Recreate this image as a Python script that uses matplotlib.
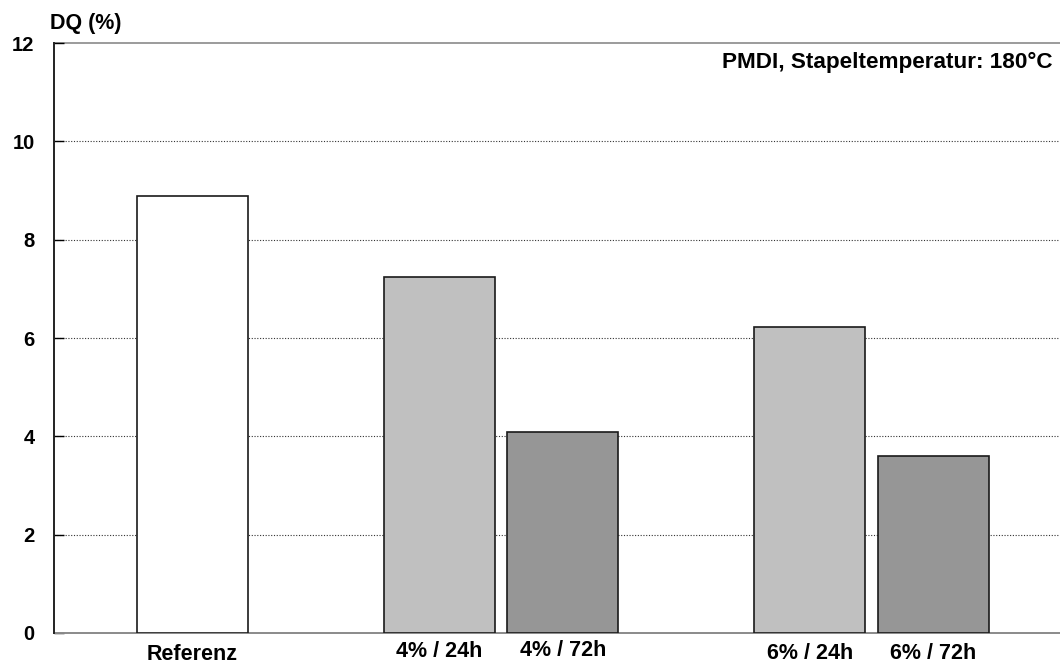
import matplotlib
matplotlib.use("Agg")
import matplotlib.pyplot as plt
from matplotlib.transforms import blended_transform_factory

# Data
categories = ["Referenz", "4% / 24h", "4% / 72h", "6% / 24h", "6% / 72h"]
dq_values = [8.88, 7.24, 4.09, 6.22, 3.60]
slot_positions = [1, 3, 4, 6, 7]
bar_colors = ["#ffffff", "#c0c0c0", "#969696", "#c0c0c0", "#969696"]
y_ticks = [0, 2, 4, 6, 8, 10, 12]
annotation = "PMDI, Stapeltemperatur: 180°C"
y_label = "DQ (%)"

# Per-label vertical offsets of category names (axes fraction)
label_offsets = [-0.037, -0.031, -0.029, -0.034, -0.034]

plt.rcParams["font.family"] = ["Liberation Sans", "DejaVu Sans"]
plt.rcParams["font.weight"] = "bold"

fig = plt.figure(figsize=(10.6, 6.64), dpi=100)
ax = fig.add_axes([0.0509, 0.0467, 0.9491, 0.8885])

ax.bar(slot_positions, dq_values, width=0.9, color=bar_colors,
       edgecolor="#1a1a1a", linewidth=1.2, zorder=3)

ax.set_ylim(0, 12)
ax.set_xlim(-0.121, 8.025)
ax.set_yticks(y_ticks)
ax.set_yticklabels([str(t) for t in y_ticks], fontsize=14.5, fontweight="bold")
ax.tick_params(axis="y", direction="in", length=7, width=1, color="black", pad=14)
ax.set_xticks([])

# Dotted gridlines at inner ticks, solid gray frame lines at 0 and 12
for t in y_ticks[1:-1]:
    ax.axhline(t, color="#333333", linestyle=(0, (1, 1.5)), linewidth=0.8, zorder=1)
ax.axhline(12, color="#8a8a8a", linewidth=1.2, zorder=1, clip_on=False)
ax.axhline(0, color="#8a8a8a", linewidth=1.4, zorder=2, clip_on=False)

for side in ["top", "right", "bottom"]:
    ax.spines[side].set_visible(False)
ax.spines["left"].set_color("#222222")
ax.spines["left"].set_linewidth(1.4)
ax.spines["left"].set_zorder(4)

# Category labels under the bars
trans = blended_transform_factory(ax.transData, ax.transAxes)
for x, name, dy in zip(slot_positions, categories, label_offsets):
    ax.text(x, dy, name, transform=trans, ha="center", va="center",
            fontsize=15.5, fontweight="bold")

# Axis title and annotation
fig.text(50 / 1060, 1 - 24 / 664, y_label, ha="left", va="center",
         fontsize=15.5, fontweight="bold")
fig.text(1052 / 1060, 1 - 62 / 664, annotation, ha="right", va="center",
         fontsize=16.2, fontweight="bold")

fig.savefig("out.png", dpi=100)
